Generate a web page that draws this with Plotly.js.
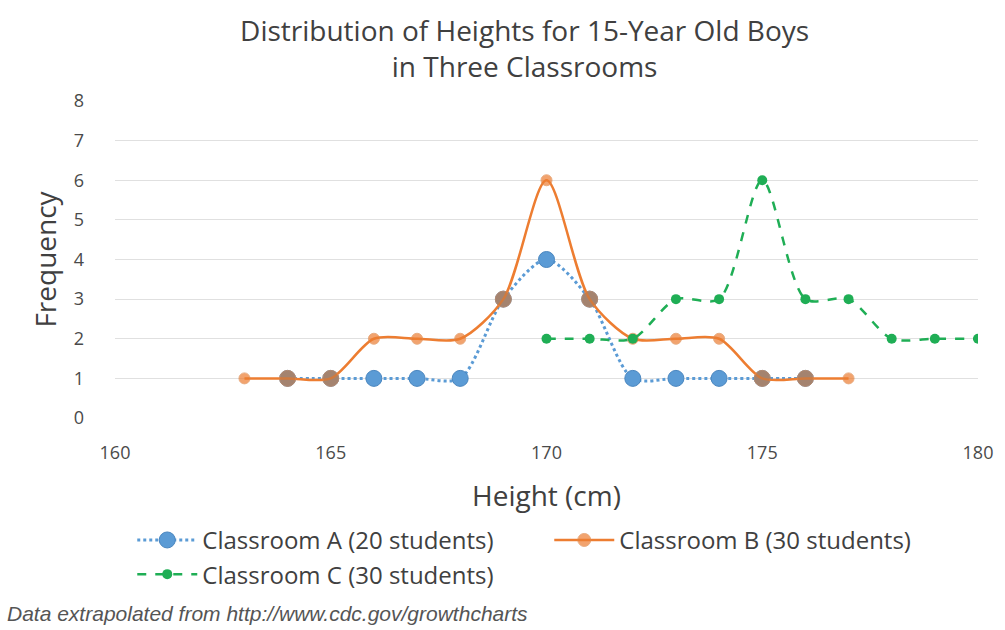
<!DOCTYPE html>
<html>
<head>
<meta charset="utf-8">
<script src="https://cdn.plot.ly/plotly-3.0.1.min.js"></script>
<style>html,body{margin:0;padding:0;background:#fff;}#chart{width:1005px;height:630px;}</style>
</head>
<body>
<div id="chart"></div>
<script>
// Data
const heightsA = [164, 165, 166, 167, 168, 169, 170, 171, 172, 173, 174, 175, 176];
const freqA    = [1, 1, 1, 1, 1, 3, 4, 3, 1, 1, 1, 1, 1];
const heightsB = [163, 164, 165, 166, 167, 168, 169, 170, 171, 172, 173, 174, 175, 176, 177];
const freqB    = [1, 1, 1, 2, 2, 2, 3, 6, 3, 2, 2, 2, 1, 1, 1];
const heightsC = [170, 171, 172, 173, 174, 175, 176, 177, 178, 179, 180];
const freqC    = [2, 2, 2, 3, 3, 6, 3, 3, 2, 2, 2];
const seriesNames = ["Classroom A (20 students)", "Classroom B (30 students)", "Classroom C (30 students)"];
const yTicks = [0, 1, 2, 3, 4, 5, 6, 7, 8];
const xTicks = [160, 165, 170, 175, 180];

const FONT = "'Open Sans', Lato, sans-serif";

// Where B sits on top of A's larger marker, the overlap shows a larger brownish dot
const overlapB = heightsB.map((h, i) => {
  const j = heightsA.indexOf(h);
  return j >= 0 && freqA[j] === freqB[i];
});
const sizeB = overlapB.map(o => o ? 16 : 11);
const colorB = overlapB.map(o => o ? '#c47a45' : '#ED7D31');

const traces = [
  {
    x: heightsA, y: freqA, name: seriesNames[0], type: 'scatter', mode: 'lines+markers',
    line: {color: '#5B9BD5', width: 3, dash: 'dot', shape: 'spline', smoothing: 0.8},
    marker: {color: '#5B9BD5', size: 16, line: {color: '#4a86bf', width: 1}}
  },
  {
    x: heightsB, y: freqB, name: seriesNames[1], type: 'scatter', mode: 'lines+markers',
    line: {color: '#ED7D31', width: 2.5, shape: 'spline', smoothing: 0.8},
    marker: {color: colorB, size: sizeB, line: {color: '#e08a4d', width: 1}}
  },
  {
    x: heightsC, y: freqC, name: seriesNames[2], type: 'scatter', mode: 'lines+markers',
    line: {color: '#1fae55', width: 2.5, dash: 'dash', shape: 'spline', smoothing: 0.8},
    marker: {color: '#1fae55', size: 10}
  }
];

const layout = {
  width: 1005, height: 630,
  paper_bgcolor: '#ffffff', plot_bgcolor: '#ffffff',
  margin: {l: 115, r: 27, t: 101, b: 212},
  font: {family: FONT, color: '#505050'},
  title: {
    text: 'Distribution of Heights for 15-Year Old Boys<br>in Three Classrooms',
    font: {family: FONT, size: 28, color: '#404040'},
    x: 0.522, xanchor: 'center', yref: 'container', y: 0.935, yanchor: 'middle'
  },
  xaxis: {
    range: [160, 180], tickvals: xTicks, ticktext: xTicks.map(String),
    showgrid: false, zeroline: false, showline: false, ticks: '',
    ticklabelstandoff: 22,
    tickfont: {family: FONT, size: 18, color: '#4a4a4a'},
    title: {text: 'Height (cm)', font: {family: FONT, size: 28, color: '#404040'}, standoff: 23}
  },
  yaxis: {
    range: [0, 8], tickvals: yTicks, ticktext: yTicks.map(String),
    showgrid: true, gridcolor: '#e0e0e0', gridwidth: 1,
    zeroline: false, showline: false, ticks: '',
    ticklabelstandoff: 30,
    tickfont: {family: FONT, size: 18, color: '#4a4a4a'},
    title: {text: 'Frequency', font: {family: FONT, size: 28, color: '#404040'}, standoff: 8}
  },
  showlegend: true,
  legend: {
    orientation: 'h', x: 0.02, xanchor: 'left', y: -0.315, yanchor: 'top',
    entrywidth: 342, entrywidthmode: 'pixels',
    font: {family: FONT, size: 24, color: '#404040'},
    itemwidth: 60, traceorder: 'normal'
  },
  annotations: [{
    text: 'Data extrapolated from http://www.cdc.gov/growthcharts',
    xref: 'paper', yref: 'paper', x: -0.128, xanchor: 'left', y: -0.618, yanchor: 'middle',
    showarrow: false, font: {family: "'Liberation Sans', Arial, sans-serif", size: 21, color: '#555555'}
  }]
};

Plotly.newPlot('chart', traces, layout, {displayModeBar: false, staticPlot: true}).then(() => {
  const t = document.querySelector('.annotation-text');
  if (t) t.style.fontStyle = 'italic';
});
</script>
</body>
</html>
